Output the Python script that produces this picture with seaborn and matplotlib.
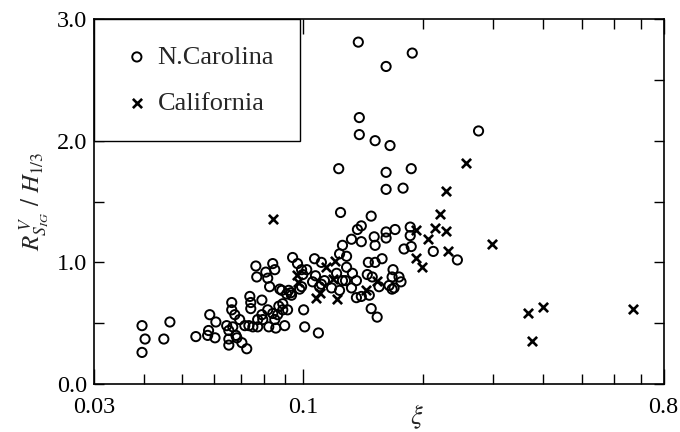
import numpy as np
import matplotlib
matplotlib.use('Agg')
import matplotlib.pyplot as plt
from matplotlib.ticker import NullFormatter
import seaborn as sns

# N.Carolina (open circles)
nc_xi = [0.0396, 0.0403, 0.0396, 0.0449, 0.0465, 0.0540, 0.0578, 0.0585, 0.0581, 0.0603,
         0.0606, 0.0645, 0.0653, 0.0653, 0.0653, 0.0664, 0.0664, 0.0668, 0.0676, 0.0680,
         0.0695, 0.0704, 0.0716, 0.0724, 0.0737, 0.0741, 0.0741, 0.0733, 0.0750, 0.0763,
         0.0767, 0.0771, 0.0771, 0.0790, 0.0790, 0.0808, 0.0817, 0.0817, 0.0822, 0.0826,
         0.0841, 0.0851, 0.0841, 0.0851, 0.0856, 0.0871, 0.0886, 0.0891, 0.0891, 0.0901,
         0.0911, 0.0916, 0.0922, 0.0937, 0.0943, 0.0970, 0.0982, 0.1005, 0.1011, 0.0993,
         0.1023, 0.1070, 0.1094, 0.1058, 0.1113, 0.1101, 0.1133, 0.0684, 0.1076, 0.1113,
         0.0876, 0.0933, 0.0794, 0.0865,
         0.1243, 0.1483, 0.1401, 0.1370, 0.1257, 0.1324, 0.1401, 0.1509, 0.1517, 0.1616,
         0.1702, 0.1616, 0.1236, 0.1287, 0.1459, 0.1517, 0.1579, 0.1682, 0.1215, 0.1287,
         0.1331, 0.1257, 0.1362, 0.1450, 0.1552, 0.1644, 0.1692, 0.1180, 0.1236, 0.1324,
         0.1467, 0.1000, 0.0993, 0.1857, 0.1857, 0.1792, 0.1868, 0.1741, 0.1761, 0.1673,
         0.1492, 0.1279, 0.1362, 0.1401, 0.1483, 0.1535, 0.2121, 0.2437, 0.1673,
         0.1377, 0.1879, 0.1616, 0.1385, 0.1385, 0.1517, 0.1653, 0.2753, 0.1230, 0.1616,
         0.1868, 0.1616, 0.1782]
nc_ratio = [0.48, 0.37, 0.26, 0.37, 0.51, 0.39, 0.40, 0.57, 0.44, 0.38,
            0.51, 0.48, 0.44, 0.37, 0.32, 0.67, 0.61, 0.47, 0.57, 0.40,
            0.53, 0.34, 0.48, 0.29, 0.72, 0.67, 0.62, 0.48, 0.47, 0.97,
            0.88, 0.47, 0.53, 0.69, 0.57, 0.92, 0.87, 0.61, 0.47, 0.80,
            0.99, 0.94, 0.58, 0.53, 0.46, 0.64, 0.77, 0.66, 0.61, 0.48,
            0.74, 0.61, 0.77, 0.73, 1.04, 0.99, 0.78, 0.61, 0.47, 0.94,
            0.94, 1.03, 0.42, 0.84, 1.00, 0.80, 0.85, 0.38, 0.89, 0.82,
            0.78, 0.75, 0.53, 0.57,
            1.41, 1.38, 1.30, 1.27, 1.14, 1.19, 1.17, 1.21, 1.14, 1.25,
            1.27, 1.20, 1.07, 1.05, 1.00, 1.00, 1.03, 0.94, 0.91, 0.96,
            0.91, 0.85, 0.85, 0.90, 0.80, 0.81, 0.79, 0.79, 0.77, 0.79,
            0.73, 0.90, 0.80, 1.29, 1.22, 1.11, 1.13, 0.88, 0.84, 0.78,
            0.88, 0.85, 0.71, 0.72, 0.62, 0.55, 1.09, 1.02, 0.88,
            2.81, 2.72, 2.61, 2.19, 2.05, 2.00, 1.96, 2.08, 1.77, 1.74,
            1.77, 1.60, 1.61]

# California (crosses)
ca_xi = [0.0841, 0.2566, 0.2287, 0.2208, 0.1922, 0.2145, 0.2287, 0.2061, 0.2314, 0.1922,
         0.1990, 0.1535, 0.1442, 0.1082, 0.1215, 0.1140, 0.1201, 0.1187, 0.0970, 0.0965,
         0.1107, 0.2970, 0.3655, 0.3980, 0.3740, 0.6690]
ca_ratio = [1.36, 1.82, 1.59, 1.40, 1.27, 1.28, 1.26, 1.19, 1.09, 1.04,
            0.96, 0.85, 0.77, 0.71, 0.70, 0.96, 1.01, 0.86, 0.84, 0.90,
            0.75, 1.15, 0.58, 0.63, 0.35, 0.62]

x_major = [0.03, 0.1, 0.8]
x_major_labels = ['0.03', '0.1', '0.8']
x_minor = [0.04, 0.05, 0.06, 0.07, 0.08, 0.09, 0.2, 0.3, 0.4, 0.5, 0.6, 0.7]
y_major = [0.0, 1.0, 2.0, 3.0]
y_major_labels = ['0.0', '1.0', '2.0', '3.0']
y_minor = [0.5, 1.5, 2.5]

sns.set_style('ticks')
plt.rcParams['font.family'] = ['Liberation Serif', 'DejaVu Serif']
plt.rcParams['mathtext.fontset'] = 'stix'

fig = plt.figure(figsize=(6.8, 4.32), dpi=100)
ax = fig.add_axes([0.138, 0.111, 0.838, 0.845])

sns.scatterplot(x=nc_xi, y=nc_ratio, marker='o', s=44, facecolor='none',
                edgecolor='black', linewidth=1.4, label='N.Carolina', ax=ax)
sns.scatterplot(x=ca_xi, y=ca_ratio, marker='x', s=44, color='black',
                linewidth=1.9, label='California', ax=ax)

ax.set_xscale('log')
ax.set_xlim(0.03, 0.8)
ax.set_ylim(0, 3.0)
ax.set_xticks(x_major, labels=x_major_labels)
ax.set_xticks(x_minor, minor=True)
ax.xaxis.set_minor_formatter(NullFormatter())
ax.set_yticks(y_major, labels=y_major_labels)
ax.set_yticks(y_minor, minor=True)

ax.tick_params(which='both', direction='in', top=True, right=True,
               labelsize=17.5, width=1.0, colors='black')
ax.tick_params(axis='x', which='both', pad=9)
ax.tick_params(axis='y', which='both', pad=5)
ax.tick_params(axis='x', which='major', length=11)
ax.tick_params(axis='x', which='minor', length=7)
ax.tick_params(axis='y', which='both', length=7)
for sp in ax.spines.values():
    sp.set_linewidth(1.2)
    sp.set_color('black')

ax.set_ylabel(r'$R^{\,V}_{S_{IG}}\ /\ H_{1/3}$', fontsize=18, labelpad=3)
ax.set_xlabel(r'$\xi$', fontsize=19)
ax.xaxis.set_label_coords(0.567, -0.05)

leg = ax.legend(loc='upper left', bbox_to_anchor=(0, 1), borderaxespad=0,
                fancybox=False, edgecolor='black', framealpha=1, fontsize=19,
                borderpad=1.0, labelspacing=0.86, handlelength=1.26,
                handletextpad=0.15)
leg.get_frame().set_linewidth(1.0)

fig.savefig('out.png', dpi=100)
